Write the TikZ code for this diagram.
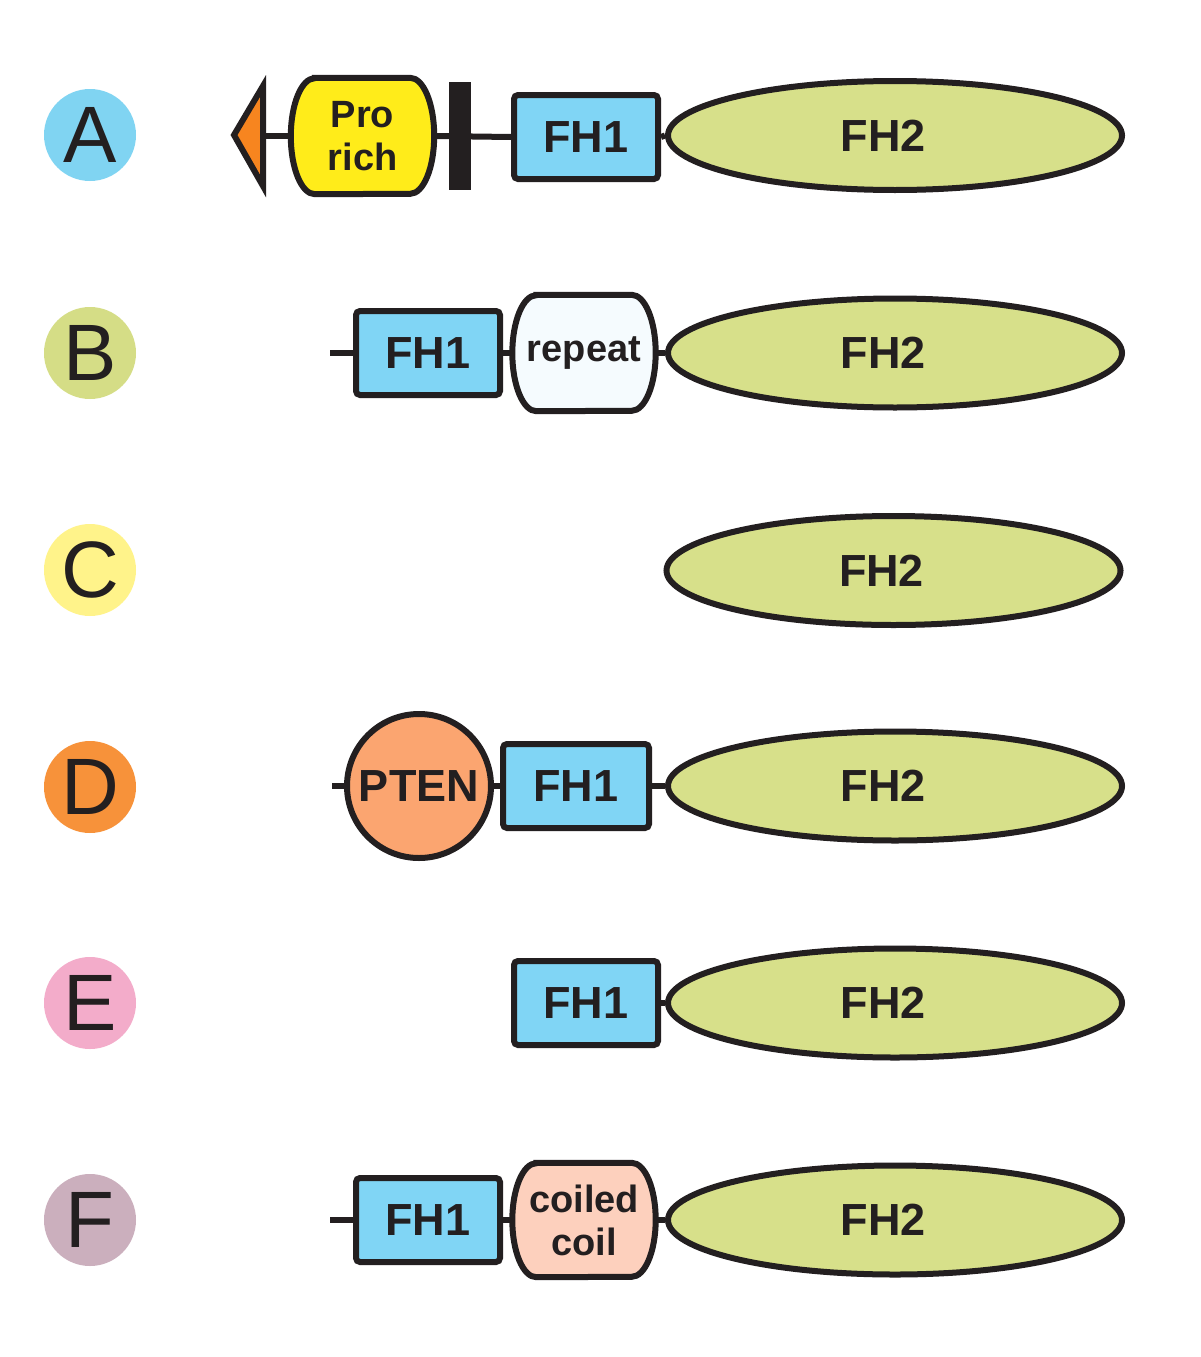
\documentclass[tikz,border=0pt]{standalone}
\usepackage{fontspec}
\setmainfont{Liberation Sans}
\usetikzlibrary{backgrounds,shapes.geometric}
\definecolor{ink}{HTML}{231F20}
\definecolor{fhcol}{HTML}{80D5F5}
\definecolor{elcol}{HTML}{D7E08A}
\definecolor{procol}{HTML}{FFEC1A}
\definecolor{tricol}{HTML}{F7851F}
\definecolor{ptencol}{HTML}{FBA570}
\definecolor{coilcol}{HTML}{FDD0BD}
\definecolor{repcol}{HTML}{F5FBFE}
\definecolor{tagA}{HTML}{80D4F2}
\definecolor{tagB}{HTML}{D5DD86}
\definecolor{tagC}{HTML}{FFF38A}
\definecolor{tagD}{HTML}{F7923A}
\definecolor{tagE}{HTML}{F3ACCA}
\definecolor{tagF}{HTML}{CBAFBD}
\tikzset{
  link/.style={line width=6pt, draw=ink},
  dom/.style={line width=6pt, draw=ink, text=ink, inner sep=0pt,
    font=\bfseries\fontsize{45}{48}\selectfont},
  fhone/.style={dom, fill=fhcol, rectangle, rounded corners=4pt,
    minimum width=144pt, minimum height=84pt},
  fhtwo/.style={dom, fill=elcol, ellipse, minimum width=454pt, minimum height=109pt},
  barrelnode/.style={inner sep=0pt, text=ink, align=center,
    font=\bfseries\fontsize{38}{43}\selectfont,
    minimum width=143pt, minimum height=116pt},
  ptennode/.style={dom, fill=ptencol, circle, minimum size=144pt},
  tag/.style={circle, inner sep=0pt, minimum size=92pt, text=ink,
    font=\fontsize{80}{80}\selectfont},
}
\newcommand{\drawbarrel}[3]{%
  \begin{scope}[on background layer]
    \draw[link, fill=#2]
      ([xshift=24pt]#1.north west) -- ([xshift=-24pt]#1.north east)
      arc[start angle=90, end angle=-90, x radius=24pt, y radius=#3]
      -- ([xshift=24pt]#1.south west)
      arc[start angle=270, end angle=90, x radius=24pt, y radius=#3]
      -- cycle;
  \end{scope}}
\newcommand{\fhtext}{\kern-24pt FH2}
\begin{document}
\begin{tikzpicture}[x=1pt, y=-1pt]
\useasboundingbox (0,0) rectangle (1200,1357);
\begin{scope}[on background layer]
  \fill[white] (0,0) rectangle (1200,1357);
\end{scope}

% letter tags
\node[tag, fill=tagA] (tA) at (90,135) {A};
\node[tag, fill=tagB] (tB) at (90,353) {B};
\node[tag, fill=tagC] (tC) at (90,570) {C};
\node[tag, fill=tagD] (tD) at (90,787) {D};
\node[tag, fill=tagE] (tE) at (90,1003) {E};
\node[tag, fill=tagF] (tF) at (90,1220) {F};

% ---- Row A
\node[barrelnode] (pro) at (362.5,136) {Pro\\rich};
\drawbarrel{pro}{procol}{58pt}
\node[fhone] (fhA) at (586,137) {FH1};
\node[fhtwo] (elA) at (895,135.5) {\fhtext};
\coordinate (triA) at (263,136);
\draw[link, fill=tricol, line join=miter] (263,86) -- (234,135) -- (263,186) -- cycle;
\draw[link] (triA) -- (pro.west);
\draw[link] (pro.east) -- (fhA.west);
\node[fill=ink, inner sep=0pt, minimum width=22pt, minimum height=108pt] (bar) at (460,136) {};
\draw[link] (fhA.east) -- (elA.west);

% ---- Row B
\coordinate (sB) at (330,353);
\node[fhone] (fhB) at (428,353) {FH1};
\node[barrelnode] (rep) at (584,353) {repeat};
\drawbarrel{rep}{repcol}{58pt}
\node[fhtwo] (elB) at (895,353) {\fhtext};
\draw[link] (sB) -- (fhB.west);
\draw[link] (fhB.east) -- (rep.west);
\draw[link] (rep.east) -- (elB.west);

% ---- Row C
\node[fhtwo] (elC) at (893.5,570.5) {\fhtext};

% ---- Row D
\coordinate (sD) at (332,786);
\node[ptennode] (pten) at (419,786) {PTEN};
\node[fhone, minimum width=146pt] (fhD) at (576,786) {FH1};
\node[fhtwo] (elD) at (895,786) {\fhtext};
\draw[link] (sD) -- (pten.west);
\draw[link] (pten.east) -- (fhD.west);
\draw[link] (fhD.east) -- (elD.west);

% ---- Row E
\node[fhone] (fhE) at (586,1003) {FH1};
\node[fhtwo] (elE) at (895,1003) {\fhtext};
\draw[link] (fhE.east) -- (elE.west);

% ---- Row F
\coordinate (sF) at (330,1220);
\node[fhone] (fhF) at (428,1220) {FH1};
\node[barrelnode, minimum height=114pt] (coil) at (584,1220) {coiled\\coil};
\drawbarrel{coil}{coilcol}{57pt}
\node[fhtwo] (elF) at (895,1220) {\fhtext};
\draw[link] (sF) -- (fhF.west);
\draw[link] (fhF.east) -- (coil.west);
\draw[link] (coil.east) -- (elF.west);
\end{tikzpicture}
\end{document}
